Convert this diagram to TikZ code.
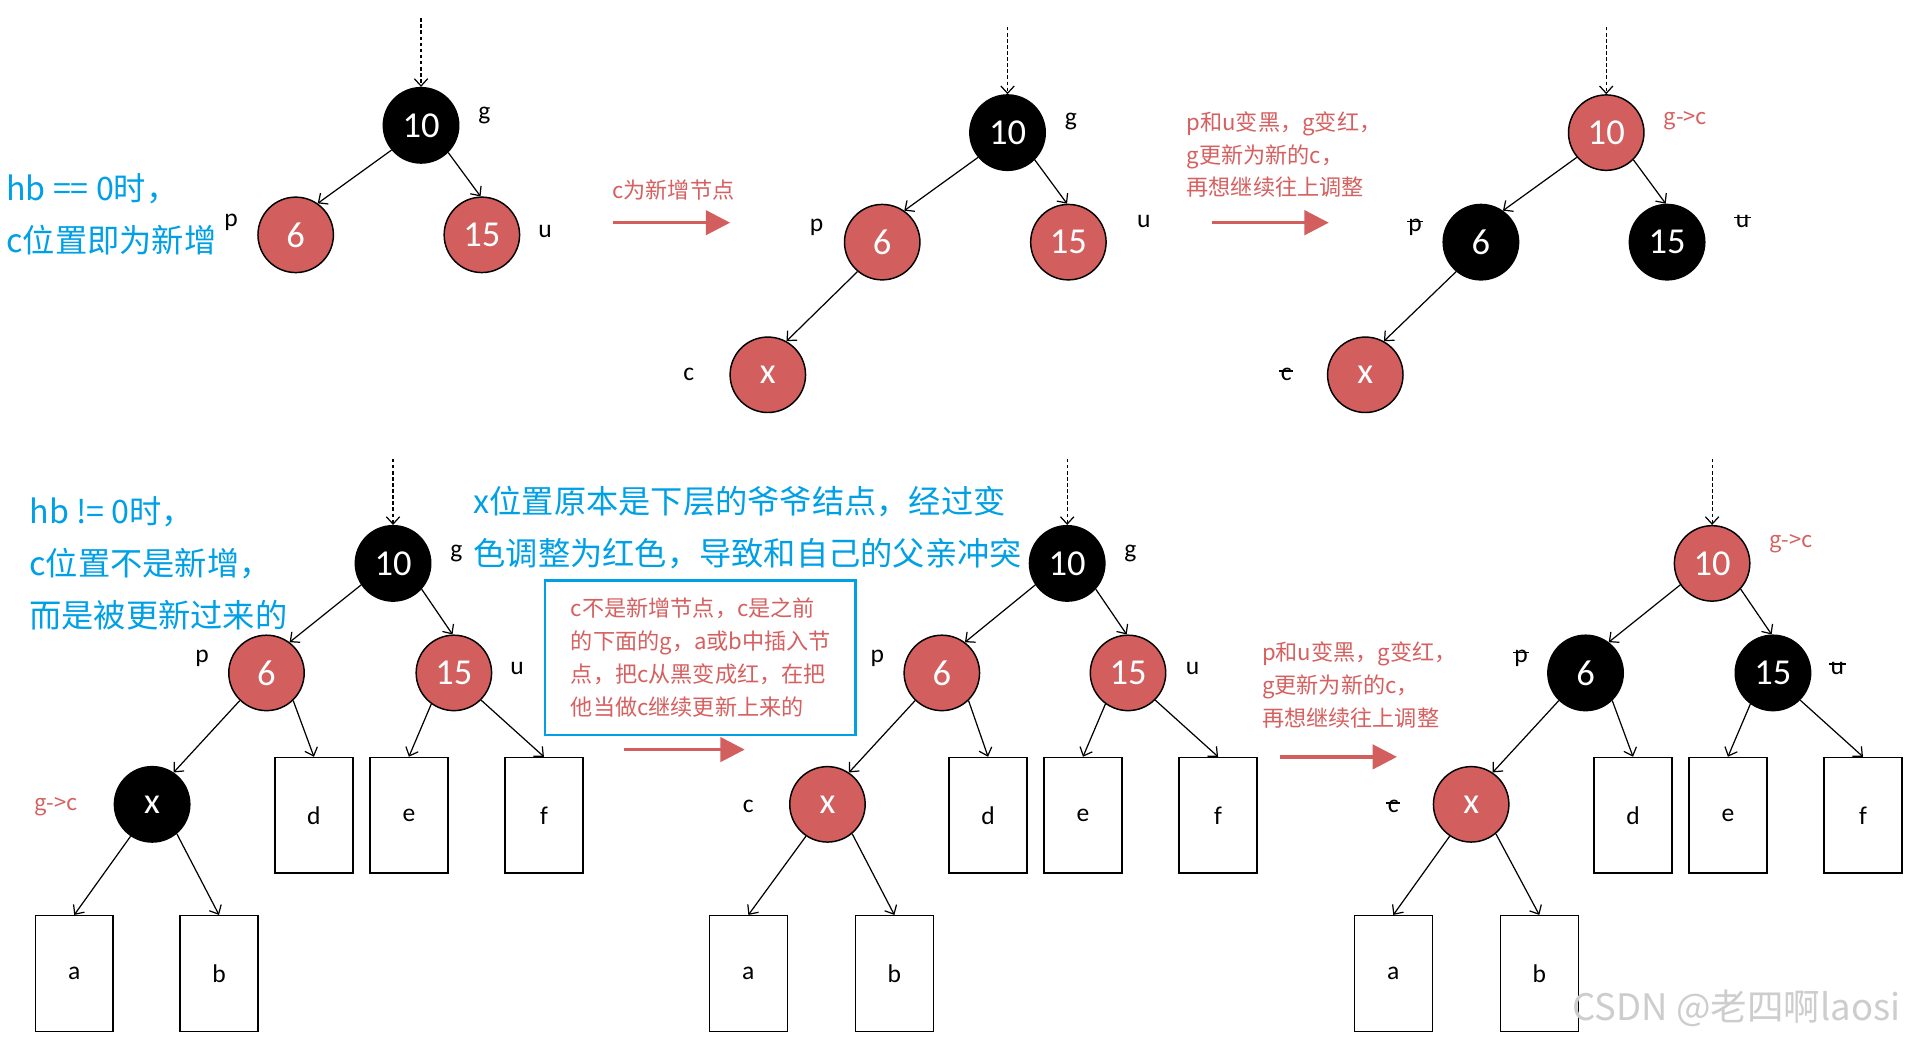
\documentclass[tikz,border=0pt]{standalone}
\usepackage{fontspec}
\setmainfont{Carlito}
\newfontfamily\cjk{Noto Sans CJK SC}
\usetikzlibrary{arrows.meta}
\definecolor{nred}{RGB}{210,94,94}
\definecolor{tred}{RGB}{214,96,96}
\definecolor{tblue}{RGB}{0,160,230}
\definecolor{wmark}{RGB}{205,205,205}
\newcommand\myStrike[1]{\setbox0=\hbox{#1}\rlap{\kern-0.06em\rule[0.36em]{\dimexpr\wd0+0.12em\relax}{0.06em}}\box0}
\begin{document}
\begin{tikzpicture}[x=1pt,y=-1pt,
  rb/.style={circle, draw=black, line width=1.2, minimum size=62, inner sep=0, text=white, font=\fontsize{30}{30}\selectfont},
  blk/.style={rb, fill=black},
  rd/.style={rb, fill=nred},
  leaf/.style={draw, line width=1.2, minimum width=64, minimum height=95, inner sep=0, font=\fontsize{21}{21}\selectfont},
  lab/.style={inner sep=0, font=\fontsize{21}{21}\selectfont},
  rlab/.style={inner sep=0, text=tred, font=\cjk\fontsize{18}{18}\selectfont},
  edge/.style={-{Straight Barb[length=6,width=11]}, line width=1},
  dasharr/.style={edge, dash pattern=on 3 off 2},
  bigarrow/.style={draw=nred, line width=2.8, -{Triangle[length=20,width=20,fill=nred]}},
  redtxt/.style={inner sep=0, text=tred, align=left, font=\cjk\fontsize{18.2}{27}\selectfont},
  bluetxt/.style={inner sep=0, text=tblue, align=left, font=\cjk\fontsize{26.5}{43}\selectfont},
  bluebox/.style={draw=tblue, line width=2.2, minimum width=255, minimum height=127, inner sep=0}
]
\useasboundingbox (0,0) rectangle (1568,856);
\fill[white] (0,0) rectangle (1568,856);

% ---------------- Panel A ----------------
\coordinate (tA) at (346,15);
\node[blk] (gA) at (346,103) {10};
\node[rd] (pA) at (243,193) {6};
\node[rd] (uA) at (396,193) {15};
\node[lab] (lgA) at (398,95) {g};
\node[lab] (lpA) at (190,183) {p};
\node[lab] (luA) at (448,190) {u};
\draw[dasharr] (tA) -- (gA.north);
\draw[edge] (gA.220) -- (pA.55);
\draw[edge] (gA.-45) -- (uA.92);
\node[bluetxt, anchor=west] (hbA) at (5,176) {hb == 0时，\\c位置即为新增};

\node[redtxt, anchor=west] (tAB) at (503,156) {c为新增节点};
\coordinate (sAB) at (504,183);
\coordinate (eAB) at (600,183);
\draw[bigarrow] (sAB) -- (eAB);

% ---------------- Panel B ----------------
\coordinate (tB) at (828,22);
\node[blk] (gB) at (828,109) {10};
\node[rd] (pB) at (725,199) {6};
\node[rd] (uB) at (878,199) {15};
\node[rd] (xB) at (631,308) {x};
\node[lab] (lgB) at (880,100) {g};
\node[lab] (lpB) at (671,187) {p};
\node[lab] (luB) at (940,182) {u};
\node[lab] (lcB) at (566,308) {c};
\draw[dasharr] (tB) -- (gB.north);
\draw[edge] (gB.220) -- (pB.55);
\draw[edge] (gB.-45) -- (uB.92);
\draw[edge] (pB.230) -- (xB.61);

\node[redtxt, anchor=west] (tBC) at (975,127) {p和u变黑，g变红，\\g更新为新的c，\\再想继续往上调整};
\coordinate (sBC) at (996,183);
\coordinate (eBC) at (1092,183);
\draw[bigarrow] (sBC) -- (eBC);

% ---------------- Panel C ----------------
\coordinate (tC) at (1320,22);
\node[rd] (gC) at (1320,109) {10};
\node[blk] (pC) at (1217,199) {6};
\node[blk] (uC) at (1370,199) {15};
\node[rd] (xC) at (1122,308) {x};
\node[rlab] (lgC) at (1385,99) {g->c};
\node[lab] (lpC) at (1163,187) {\myStrike{p}};
\node[lab] (luC) at (1432,182) {\myStrike{u}};
\node[lab] (lcC) at (1057,308) {\myStrike{c}};
\draw[dasharr] (tC) -- (gC.north);
\draw[edge] (gC.220) -- (pC.55);
\draw[edge] (gC.-45) -- (uC.92);
\draw[edge] (pC.230) -- (xC.61);

% ---------------- Panel D ----------------
\coordinate (tD) at (323,377);
\node[blk] (gD) at (323,463) {10};
\node[rd] (pD) at (219,553) {6};
\node[rd] (uD) at (373,553) {15};
\node[blk] (xD) at (125,661) {x};
\node[leaf] (dD) at (258,670) {d};
\node[leaf] (eD) at (336,670) {e};
\node[leaf] (fD) at (447,670) {f};
\node[leaf] (aD) at (61,800) {a};
\node[leaf] (bD) at (180,800) {b};
\node[lab] (lgD) at (375,455) {g};
\node[lab] (lpD) at (166,541) {p};
\node[lab] (luD) at (425,549) {u};
\node[rlab] (lcD) at (46,663) {g->c};
\node[bluetxt, anchor=west] (hbD) at (24,463) {hb != 0时，\\c位置不是新增，\\而是被更新过来的};

\node[bluetxt, anchor=west] (xnote) at (389,433.5) {x位置原本是下层的爷爷结点，经过变\\色调整为红色，导致和自己的父亲冲突};
\node[bluebox] (cbox) at (575.5,540.5) {};
\node[redtxt, anchor=west] (ctext) at (469,540.5) {c不是新增节点，c是之前\\的下面的g，a或b中插入节\\点，把c从黑变成红，在把\\他当做c继续更新上来的};
\coordinate (sDE) at (513,616);
\coordinate (eDE) at (612,616);
\draw[bigarrow] (sDE) -- (eDE);

% ---------------- Panel E ----------------
\coordinate (tE) at (877,377);
\node[blk] (gE) at (877,463) {10};
\node[rd] (pE) at (774,553) {6};
\node[rd] (uE) at (927,553) {15};
\node[rd] (xE) at (680,661) {x};
\node[leaf] (dE) at (812,670) {d};
\node[leaf] (eE) at (890,670) {e};
\node[leaf] (fE) at (1001,670) {f};
\node[leaf] (aE) at (615,800) {a};
\node[leaf] (bE) at (735,800) {b};
\node[lab] (lgE) at (929,455) {g};
\node[lab] (lpE) at (721,541) {p};
\node[lab] (luE) at (980,549) {u};
\node[lab] (lcE) at (615,663) {c};

\node[redtxt, anchor=west] (tEF) at (1037,563) {p和u变黑，g变红，\\g更新为新的c，\\再想继续往上调整};
\coordinate (sEF) at (1052,622);
\coordinate (eEF) at (1148,622);
\draw[bigarrow] (sEF) -- (eEF);

% ---------------- Panel F ----------------
\coordinate (tF) at (1407,377);
\node[rd] (gF) at (1407,463) {10};
\node[blk] (pF) at (1303,553) {6};
\node[blk] (uF) at (1457,553) {15};
\node[rd] (xF) at (1209,661) {x};
\node[leaf] (dF) at (1342,670) {d};
\node[leaf] (eF) at (1420,670) {e};
\node[leaf] (fF) at (1531,670) {f};
\node[leaf] (aF) at (1145,800) {a};
\node[leaf] (bF) at (1265,800) {b};
\node[rlab] (lgF) at (1472,447) {g->c};
\node[lab] (lpF) at (1250,541) {\myStrike{p}};
\node[lab] (luF) at (1510,549) {\myStrike{u}};
\node[lab] (lcF) at (1145,663) {\myStrike{c}};

\foreach \s in {D,E,F}{
  \draw[dasharr] (t\s) -- (g\s.north);
  \draw[edge] (g\s.214) -- (p\s.53);
  \draw[edge] (g\s.-42) -- (u\s.92);
  \draw[edge] (p\s.226) -- (x\s.56);
  \draw[edge] (p\s.-46) -- (d\s.north);
  \draw[edge] (u\s.234) -- (e\s.north);
  \draw[edge] (u\s.-45) -- (f\s.north);
  \draw[edge] (x\s.236) -- (a\s.north);
  \draw[edge] (x\s.-50) -- (b\s.north);
}

\node[inner sep=0, anchor=west, text=wmark, font=\cjk\fontsize{30}{30}\selectfont] (wm) at (1292,829) {CSDN @老四啊laosi};
\end{tikzpicture}
\end{document}
